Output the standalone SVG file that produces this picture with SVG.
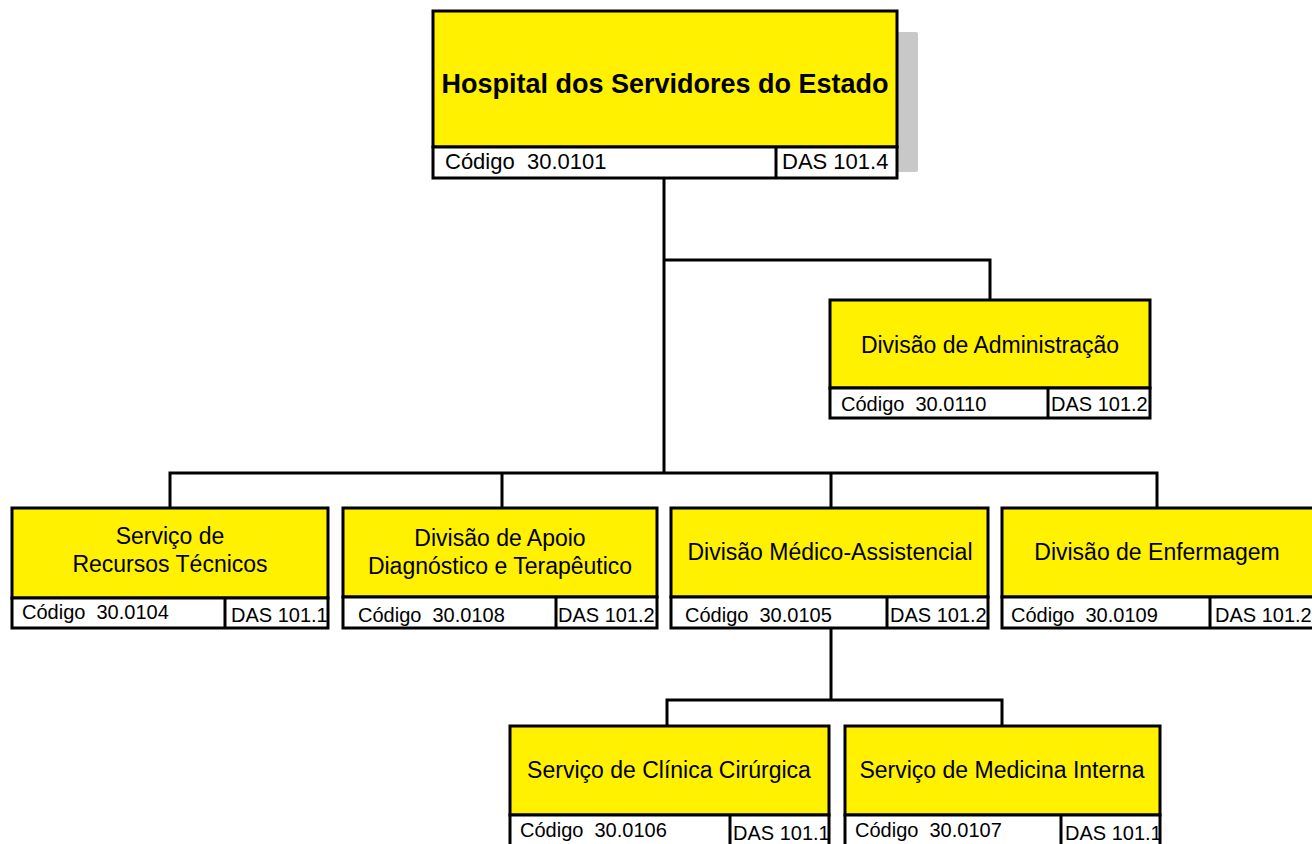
<svg xmlns="http://www.w3.org/2000/svg" width="1312" height="844" viewBox="0 0 1312 844">
<style>
.y{fill:#FFF100;stroke:#000;stroke-width:3}
.w{fill:#fff;stroke:#000;stroke-width:3}
.d{stroke:#000;stroke-width:3}
.c{fill:none;stroke:#000;stroke-width:3}
.t{font-family:"Liberation Sans",Arial,sans-serif;font-size:23px;fill:#000;text-anchor:middle}
.tb{font-family:"Liberation Sans",Arial,sans-serif;font-size:27px;font-weight:bold;fill:#000;text-anchor:middle}
.f{font-family:"Liberation Sans",Arial,sans-serif;font-size:20px;fill:#000;white-space:pre}
.fb{font-family:"Liberation Sans",Arial,sans-serif;font-size:22px;fill:#000;white-space:pre}
</style>
<rect width="1312" height="844" fill="#fff"/>
<g id="connectors">
<path class="c" d="M664 178V473"/>
<path class="c" d="M664 260H990V300"/>
<path class="c" d="M170 508V473H1157V508"/>
<path class="c" d="M502 473V508"/>
<path class="c" d="M831 473V508"/>
<path class="c" d="M831 628V700"/>
<path class="c" d="M667 726V700H1002V726"/>
</g>
<g id="hse">
<rect x="896" y="32" width="22" height="140" rx="2" fill="#C8C8C8"/>
<rect class="y" x="433" y="11" width="464" height="136"/>
<rect class="w" x="433" y="147" width="464" height="31"/>
<line class="d" x1="776" y1="147" x2="776" y2="178"/>
<text class="tb" x="665" y="93">Hospital dos Servidores do Estado</text>
<text class="fb" x="445" y="169">Código  30.0101</text>
<text class="fb" x="782" y="169">DAS 101.4</text>
</g>
<g id="admin">
<rect class="y" x="830" y="300" width="320" height="88"/>
<rect class="w" x="830" y="388" width="320" height="30"/>
<line class="d" x1="1048" y1="388" x2="1048" y2="418"/>
<text class="t" x="990" y="353">Divisão de Administração</text>
<text class="f" x="841" y="411">Código  30.0110</text>
<text class="f" x="1051" y="411">DAS 101.2</text>
</g>
<g id="recursos">
<rect class="y" x="12" y="508" width="316" height="90"/>
<rect class="w" x="12" y="598" width="316" height="30"/>
<line class="d" x1="225" y1="598" x2="225" y2="628"/>
<text class="t" x="170" y="544">Serviço de</text>
<text class="t" x="170" y="572">Recursos Técnicos</text>
<text class="f" x="22" y="619">Código  30.0104</text>
<text class="f" x="231" y="622">DAS 101.1</text>
</g>
<g id="apoio">
<rect class="y" x="343" y="508" width="314" height="89"/>
<rect class="w" x="343" y="597" width="314" height="31"/>
<line class="d" x1="556" y1="597" x2="556" y2="628"/>
<text class="t" x="500" y="546">Divisão de Apoio</text>
<text class="t" x="500" y="574">Diagnóstico e Terapêutico</text>
<text class="f" x="358" y="622">Código  30.0108</text>
<text class="f" x="558" y="622">DAS 101.2</text>
</g>
<g id="medico">
<rect class="y" x="671" y="508" width="317" height="89"/>
<rect class="w" x="671" y="597" width="317" height="31"/>
<line class="d" x1="887" y1="597" x2="887" y2="628"/>
<text class="t" x="830" y="560">Divisão Médico-Assistencial</text>
<text class="f" x="685" y="622">Código  30.0105</text>
<text class="f" x="890" y="622">DAS 101.2</text>
</g>
<g id="enfermagem">
<rect class="y" x="1002" y="508" width="316" height="89"/>
<rect class="w" x="1002" y="597" width="316" height="31"/>
<line class="d" x1="1210" y1="597" x2="1210" y2="628"/>
<text class="t" x="1157" y="560">Divisão de Enfermagem</text>
<text class="f" x="1011" y="622">Código  30.0109</text>
<text class="f" x="1215" y="622">DAS 101.2</text>
</g>
<g id="clinica">
<rect class="y" x="510" y="726" width="319" height="89"/>
<rect class="w" x="510" y="815" width="319" height="32"/>
<line class="d" x1="730" y1="815" x2="730" y2="847"/>
<text class="t" x="669" y="778">Serviço de Clínica Cirúrgica</text>
<text class="f" x="520" y="837">Código  30.0106</text>
<text class="f" x="733" y="840">DAS 101.1</text>
</g>
<g id="medicina">
<rect class="y" x="845" y="726" width="315" height="89"/>
<rect class="w" x="845" y="815" width="315" height="32"/>
<line class="d" x1="1061" y1="815" x2="1061" y2="847"/>
<text class="t" x="1002" y="778">Serviço de Medicina Interna</text>
<text class="f" x="855" y="837">Código  30.0107</text>
<text class="f" x="1065" y="840">DAS 101.1</text>
</g>
</svg>
